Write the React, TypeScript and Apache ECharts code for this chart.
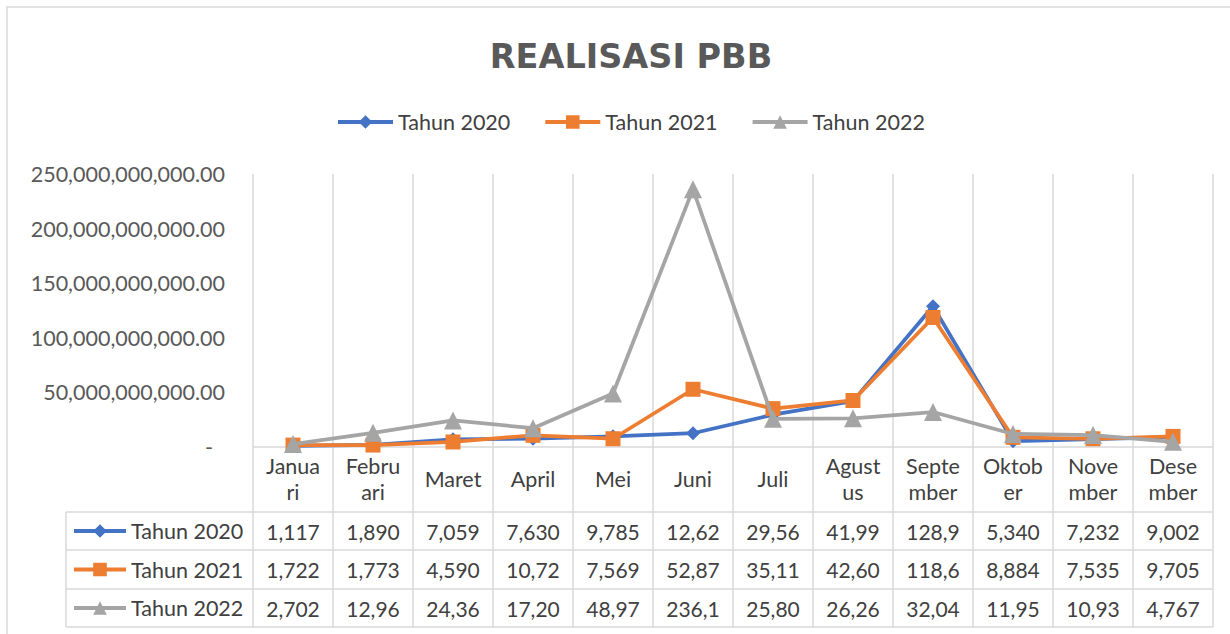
import React, { useEffect, useRef } from "react";
import * as echarts from "echarts";

const categories = ["Januari", "Februari", "Maret", "April", "Mei", "Juni", "Juli", "Agustus", "September", "Oktober", "November", "Desember"];
const headerLabels = ["Janua\nri", "Febru\nari", "Maret", "April", "Mei", "Juni", "Juli", "Agust\nus", "Septe\nmber", "Oktob\ner", "Nove\nmber", "Dese\nmber"];
const seriesNames = ["Tahun 2020", "Tahun 2021", "Tahun 2022"];
const tahun2020 = [1117000000, 1890000000, 7059000000, 7630000000, 9785000000, 12620000000, 29560000000, 41990000000, 128900000000, 5340000000, 7232000000, 9002000000];
const tahun2021 = [1722000000, 1773000000, 4590000000, 10720000000, 7569000000, 52870000000, 35110000000, 42600000000, 118600000000, 8884000000, 7535000000, 9705000000];
const tahun2022 = [2702000000, 12960000000, 24360000000, 17200000000, 48970000000, 236100000000, 25800000000, 26260000000, 32040000000, 11950000000, 10930000000, 4767000000];
const yMin = 0;
const yMax = 250000000000;
const yInterval = 50000000000;

const colors = ["#4472C4", "#ED7D31", "#A5A5A5"];
const symbols = ["diamond", "rect", "triangle"];
const symbolSizes = [14, 15, 18];

const W = 1230;
const H = 634;
const GL = 253;
const GR = 17;
const GT = 174;
const GB = 447;
const rowLines = [512, 550, 589, 627];
const tableLeft = 66;
const FONT = "Lato";
const FS = 21.5;

function fmtFull(v: number) {
  return v.toLocaleString("en-US", { minimumFractionDigits: 2, maximumFractionDigits: 2 });
}
function cellText(v: number) {
  return fmtFull(v).slice(0, 5);
}

export default function App() {
  const ref = useRef<HTMLDivElement>(null);
  useEffect(() => {
    if (!ref.current) return;
    const chart = echarts.init(ref.current, null, { renderer: "svg" });
    const data = [tahun2020, tahun2021, tahun2022];
    const plotW = W - GL - GR;
    const cellW = plotW / categories.length;
    const tableRight = GL + plotW;
    const lineStyle = { stroke: "#d9d9d9", lineWidth: 1.5 };
    const graphics: any[] = [];
    graphics.push({
      type: "rect",
      silent: true,
      shape: { x: 7, y: 7, width: 1400, height: 800 },
      style: { fill: "none", stroke: "#d9d9d9", lineWidth: 1.5 },
    });
    for (let k = 0; k <= categories.length; k++) {
      const x = GL + cellW * k;
      graphics.push({ type: "line", silent: true, shape: { x1: x, y1: GB, x2: x, y2: rowLines[rowLines.length - 1] }, style: lineStyle });
    }
    graphics.push({ type: "line", silent: true, shape: { x1: tableLeft, y1: rowLines[0], x2: tableLeft, y2: rowLines[rowLines.length - 1] }, style: lineStyle });
    rowLines.forEach((y) => {
      graphics.push({ type: "line", silent: true, shape: { x1: tableLeft, y1: y, x2: tableRight, y2: y }, style: lineStyle });
    });
    data.forEach((arr, r) => {
      const cy = (rowLines[r] + rowLines[r + 1]) / 2;
      arr.forEach((v, i) => {
        graphics.push({
          type: "text",
          silent: true,
          x: GL + cellW * (i + 0.5),
          y: cy,
          style: { text: cellText(v), fill: "#404040", font: `21px ${FONT}`, textAlign: "center", textVerticalAlign: "middle" },
        });
      });
    });

    const legendCommon = {
      itemHeight: 17,
      padding: 0,
      selectedMode: false,
      lineStyle: { width: 4 },
      textStyle: { fontSize: FS, lineHeight: 26, color: "#404040", fontFamily: FONT },
    };

    const tableLegends = seriesNames.map((n, r) => ({
      ...legendCommon,
      data: [n],
      left: 72,
      top: (rowLines[r] + rowLines[r + 1]) / 2 - 13,
      itemWidth: 52,
    }));

    chart.setOption({
      animation: false,
      backgroundColor: "#ffffff",
      textStyle: { fontFamily: FONT },
      title: {
        text: "REALISASI PBB",
        left: 626,
        top: 34,
        textAlign: "center",
        textStyle: { fontSize: 33.5, fontWeight: "bold", color: "#595959", fontFamily: "DejaVu Sans" },
      },
      legend: [
        {
          ...legendCommon,
          data: seriesNames,
          left: 336,
          top: 109,
          itemWidth: 55,
          itemGap: 33,
        },
        ...tableLegends,
      ],
      grid: { left: GL, right: GR, top: GT, bottom: H - GB, containLabel: false },
      xAxis: {
        type: "category",
        data: categories,
        boundaryGap: true,
        axisLine: { show: true, lineStyle: { color: "#d9d9d9", width: 1.5 } },
        axisTick: { show: false },
        splitLine: { show: true, lineStyle: { color: "#d9d9d9", width: 1.5 } },
        axisLabel: {
          interval: 0,
          hideOverlap: false,
          formatter: (_v: string, i: number) => headerLabels[i],
          fontSize: FS,
          lineHeight: 26,
          color: "#404040",
          verticalAlign: "middle",
          margin: 32,
          fontFamily: FONT,
        },
      },
      yAxis: {
        type: "value",
        min: yMin,
        max: yMax,
        interval: yInterval,
        axisLine: { show: false },
        axisTick: { show: false },
        splitLine: { show: false },
        axisLabel: {
          margin: 28,
          fontSize: FS,
          color: "#595959",
          fontFamily: FONT,
          formatter: (v: number) => (v === 0 ? "{z|-}" : fmtFull(v)),
          rich: { z: { fontSize: FS, color: "#595959", padding: [0, 12, 0, 0], fontFamily: FONT } },
        },
      },
      series: data.map((arr, r) => ({
        name: seriesNames[r],
        type: "line",
        data: arr,
        symbol: symbols[r],
        symbolSize: symbolSizes[r],
        lineStyle: { width: 3.75, color: colors[r] },
        itemStyle: { color: colors[r] },
        z: 2 + r,
      })),
      graphic: graphics,
    });
    return () => chart.dispose();
  }, []);
  return <div ref={ref} style={{ position: "absolute", left: 0, top: 0, width: W, height: H, background: "#fff" }} />;
}
